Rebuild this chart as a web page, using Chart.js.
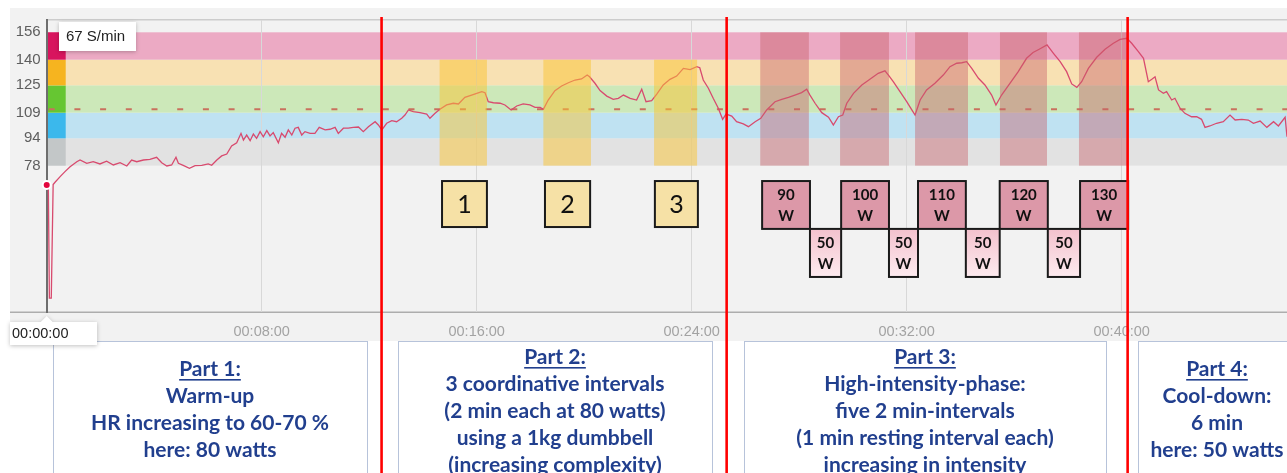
<!DOCTYPE html>
<html><head><meta charset="utf-8">
<script src="https://cdn.jsdelivr.net/npm/chart.js@4.4.1/dist/chart.umd.min.js"></script>
<style>
html,body{margin:0;padding:0;background:#fff;}
#wrap{position:relative;width:1287px;height:473px;overflow:hidden;}
canvas{display:block;}
</style></head><body>
<div id="wrap"><canvas id="c" width="1287" height="473"></canvas></div>
<script>
// ---- data (minutes, heart rate S/min) ----
const hrMinutes = [0,0.06,0.1,0.17,0.24,0.31,0.5,0.68,0.87,1.12,1.24,1.49,1.73,1.98,2.23,2.48,2.73,2.98,3.16,3.35,3.6,3.84,4.09,4.28,4.47,4.65,4.81,4.9,5.08,5.31,5.52,5.77,6.01,6.14,6.33,6.51,6.7,6.88,7.07,7.23,7.32,7.44,7.57,7.69,7.81,7.94,8.06,8.19,8.31,8.43,8.62,8.74,8.87,8.99,9.12,9.24,9.36,9.49,9.61,9.8,9.98,10.14,10.36,10.54,10.73,10.85,11.04,11.22,11.41,11.6,11.78,11.97,12.22,12.34,12.47,12.65,12.84,13.02,13.21,13.33,13.46,13.64,13.89,14.14,14.26,14.45,14.63,14.88,15.13,15.32,15.56,15.81,16.0,16.19,16.31,16.43,16.62,16.87,17.05,17.28,17.49,17.73,17.98,18.17,18.36,18.48,18.66,18.91,19.16,19.41,19.66,19.9,20.11,20.2,20.4,20.59,20.84,21.08,21.27,21.46,21.71,21.95,22.14,22.3,22.51,22.7,22.94,23.19,23.44,23.69,23.94,24.19,24.3,24.43,24.62,24.8,24.99,25.15,25.28,25.49,25.67,25.92,26.11,26.36,26.57,26.79,27.1,27.35,27.6,27.84,28.09,28.28,28.4,28.59,28.84,29.09,29.27,29.46,29.62,29.77,30.02,30.33,30.63,30.94,31.19,31.32,31.5,31.75,32.0,32.19,32.31,32.5,32.74,33.05,33.36,33.61,33.86,34.05,34.23,34.42,34.67,34.91,35.16,35.32,35.53,35.84,36.15,36.46,36.7,36.93,37.22,37.46,37.71,37.95,38.14,38.33,38.51,38.76,39.07,39.38,39.69,39.94,40.19,40.37,40.62,40.81,40.99,41.12,41.24,41.37,41.55,41.67,41.86,41.98,42.17,42.35,42.6,42.79,42.97,43.1,43.28,43.53,43.78,44.03,44.22,44.47,44.71,44.9,45.15,45.4,45.65,45.83,46.08,46.15];
const hrBpm = [66.7,66,0.5,0.5,67,68.3,71.6,74.5,77.4,80.3,81.3,79.4,80.3,79.0,80.6,78.4,79.7,77.8,81.3,80.3,81.3,81.7,82.9,79.7,77.8,78.4,82.9,79.4,78.2,76.5,78.0,78.2,79.0,78.2,81.3,83.7,84.8,89.5,91.4,96.9,93.0,95.9,92.6,96.5,94.0,97.9,94.9,98.5,95.4,97.3,91.4,96.9,94.6,98.9,95.9,99.9,100.4,95.9,97.9,96.9,96.9,100.4,98.9,99.3,100.4,96.9,99.9,99.9,100.4,100.6,97.9,100.8,103.7,101.8,98.9,102.8,104.3,103.7,105.7,107.6,110.6,109.6,109.0,108.2,105.7,108.6,111.0,113.5,114.5,114.1,118.0,119.3,120.3,121.3,120.7,115.4,114.8,114.5,113.5,110.6,112.9,114.1,113.5,112.1,112.1,111.0,116.4,121.9,124.6,126.5,128.1,128.7,131.0,130.0,126.2,121.9,118.7,116.8,117.4,119.3,117.4,116.4,122.7,115.4,116.0,119.9,125.2,128.5,130.4,134.9,134.2,135.9,135.3,128.1,123.3,117.4,111.6,105.1,108.2,107.0,103.7,102.4,100.8,103.7,105.7,110.6,115.4,116.8,118.0,119.3,120.7,122.7,119.3,114.5,109.0,106.3,101.8,106.6,107.6,114.5,120.3,125.2,128.5,132.0,133.5,131.0,127.1,121.3,115.4,110.6,107.6,116.4,122.3,126.2,131.0,135.9,137.9,138.2,138.8,134.9,129.1,125.2,119.3,113.5,119.3,126.2,133.0,140.8,144.2,146.1,148.6,143.7,138.8,133.0,125.8,123.8,127.1,134.9,141.4,146.1,149.6,151.9,152.5,149.6,144.7,140.8,127.1,128.5,130.0,122.3,120.3,121.3,116.4,117.4,111.6,108.6,106.6,106.6,105.1,100.4,101.2,102.8,103.7,107.6,104.7,105.1,104.7,102.8,104.1,100.4,103.7,101.2,106.3,94.9];

const zoneTicks = [78, 94, 109, 125, 140, 156];
const zoneBand = ['#e2e2e2', '#bfe2f2', '#cce8b9', '#f8e1b3', '#ecaac4'];
const zoneMarker = ['#c3c7c8', '#3bb8ec', '#66c632', '#f6b41f', '#d8155e'];
const targetHr = 111;

const phaseBreaks = [12.46, 25.30, 40.22];

const coordStart = [14.62, 18.48, 22.60];
const coordEnd = [16.38, 20.25, 24.20];
const coordBoxStart = [14.71, 18.54, 22.63];
const coordBoxEnd = [16.38, 20.22, 24.23];
const coordLabels = ['1', '2', '3'];

const hiStart = [26.55, 29.52, 32.31, 35.47, 38.41];
const hiEnd = [28.36, 31.34, 34.28, 37.22, 40.20];
const hiBoxStart = [26.62, 29.56, 32.42, 35.46, 38.45];
const hiBoxEnd = [28.40, 31.34, 34.20, 37.25, 40.24];
const hiWatts = ['90', '100', '110', '120', '130'];
const restWatts = ['50', '50', '50', '50'];

const xTickStep = 8;
const cursorLabel = '00:00:00';
const cursorValue = '67 S/min';

const partTitles = ['Part 1:', 'Part 2:', 'Part 3:', 'Part 4:'];
const partLines = [
  ['Warm-up', 'HR increasing to 60-70 %', 'here: 80 watts'],
  ['3 coordinative intervals', '(2 min each at 80 watts)', 'using a 1kg dumbbell', '(increasing complexity)'],
  ['High-intensity-phase:', 'five 2 min-intervals', '(1 min resting interval each)', 'increasing in intensity'],
  ['Cool-down:', '6 min', 'here: 50 watts']
];

// ---- layout constants ----
const partBoxLeft = [53, 398, 744, 1138];
const partBoxRight = [367, 712, 1106, 1296];
const partFirstLine = [369, 357, 357, 369];

const fmt = v => '00:' + String(Math.round(v)).padStart(2, '0') + ':00';

const deco = {
  id: 'deco',
  beforeDraw(chart) {
    const ctx = chart.ctx, ys = chart.scales.y, a = chart.chartArea;
    ctx.save();
    ctx.fillStyle = '#ffffff';
    ctx.fillRect(0, 0, chart.width, chart.height);
    ctx.fillStyle = '#f2f2f2';
    ctx.fillRect(10, 8, chart.width - 10, 333);
    for (let i = 0; i < 5; i++) {
      const yt = ys.getPixelForValue(zoneTicks[i + 1]);
      const yb = ys.getPixelForValue(zoneTicks[i]);
      ctx.fillStyle = zoneBand[i];
      ctx.fillRect(a.left, yt, a.right - a.left, yb - yt);
      ctx.fillStyle = zoneMarker[i];
      ctx.fillRect(a.left, yt, 19, yb - yt);
    }
    ctx.fillStyle = '#cccccc';
    ctx.fillRect(a.left, a.top - 1, a.right - a.left, 1.5);
    ctx.fillStyle = '#adadad';
    ctx.fillRect(10, a.bottom - 0.5, chart.width - 10, 1.5);
    ctx.restore();
  },
  beforeDatasetsDraw(chart) {
    const ctx = chart.ctx, ys = chart.scales.y, a = chart.chartArea;
    ctx.save();
    const y = ys.getPixelForValue(targetHr);
    ctx.strokeStyle = '#c9705e';
    ctx.lineWidth = 2;
    ctx.setLineDash([6, 19.7]);
    ctx.beginPath();
    ctx.moveTo(a.left + 2, y);
    ctx.lineTo(a.right, y);
    ctx.stroke();
    ctx.restore();
  },
  afterDatasetsDraw(chart) {
    const ctx = chart.ctx, xs = chart.scales.x, ys = chart.scales.y;
    ctx.save();
    ctx.fillStyle = 'rgba(250,196,50,0.5)';
    for (let i = 0; i < coordStart.length; i++) {
      const x0 = xs.getPixelForValue(coordStart[i]), x1 = xs.getPixelForValue(coordEnd[i]);
      const y0 = ys.getPixelForValue(140), y1 = ys.getPixelForValue(78);
      ctx.fillRect(x0, y0, x1 - x0, y1 - y0);
    }
    ctx.fillStyle = 'rgba(200,96,105,0.43)';
    for (let i = 0; i < hiStart.length; i++) {
      const x0 = xs.getPixelForValue(hiStart[i]), x1 = xs.getPixelForValue(hiEnd[i]);
      const y0 = ys.getPixelForValue(156), y1 = ys.getPixelForValue(78);
      ctx.fillRect(x0, y0, x1 - x0, y1 - y0);
    }
    const bt = ys.getPixelForValue(69.0), bb = ys.getPixelForValue(42.1);
    for (let i = 0; i < coordBoxStart.length; i++) {
      const x0 = xs.getPixelForValue(coordBoxStart[i]), x1 = xs.getPixelForValue(coordBoxEnd[i]);
      ctx.fillStyle = '#f6e1a6';
      ctx.fillRect(x0, bt, x1 - x0, bb - bt);
      ctx.strokeStyle = '#1a1a1a'; ctx.lineWidth = 2;
      ctx.strokeRect(x0, bt, x1 - x0, bb - bt);
      ctx.fillStyle = '#111';
      ctx.font = '25px Lato, "Open Sans", sans-serif';
      ctx.textAlign = 'center'; ctx.textBaseline = 'middle';
      ctx.fillText(coordLabels[i], (x0 + x1) / 2, (bt + bb) / 2 + 1);
    }
    const ht = ys.getPixelForValue(69.0), hm = ys.getPixelForValue(41.0), hb = ys.getPixelForValue(12.9);
    ctx.font = 'bold 15px Lato, "Open Sans", sans-serif';
    ctx.textAlign = 'center'; ctx.textBaseline = 'middle';
    for (let i = 0; i < hiBoxStart.length; i++) {
      const x0 = xs.getPixelForValue(hiBoxStart[i]), x1 = xs.getPixelForValue(hiBoxEnd[i]);
      ctx.fillStyle = '#dc98a8';
      ctx.fillRect(x0, ht, x1 - x0, hm - ht);
      ctx.strokeStyle = '#1a1a1a'; ctx.lineWidth = 2;
      ctx.strokeRect(x0, ht, x1 - x0, hm - ht);
      ctx.fillStyle = '#111';
      ctx.fillText(hiWatts[i], (x0 + x1) / 2, ht + 14);
      ctx.fillText('W', (x0 + x1) / 2, ht + 35);
    }
    for (let i = 0; i < restWatts.length; i++) {
      const x0 = xs.getPixelForValue(hiBoxEnd[i]), x1 = xs.getPixelForValue(hiBoxStart[i + 1]);
      const g = ctx.createLinearGradient(0, hm, 0, hb);
      g.addColorStop(0, '#f3c1cd'); g.addColorStop(1, '#fdebef');
      ctx.fillStyle = g;
      ctx.fillRect(x0, hm, x1 - x0, hb - hm);
      ctx.strokeStyle = '#1a1a1a'; ctx.lineWidth = 2;
      ctx.strokeRect(x0, hm, x1 - x0, hb - hm);
      ctx.fillStyle = '#111';
      ctx.fillText(restWatts[i], (x0 + x1) / 2, hm + 14);
      ctx.fillText('W', (x0 + x1) / 2, hm + 35);
    }
    ctx.restore();
  },
  afterDraw(chart) {
    const ctx = chart.ctx, xs = chart.scales.x;
    ctx.save();
    for (let i = 0; i < partTitles.length; i++) {
      const l = partBoxLeft[i], r = partBoxRight[i];
      ctx.fillStyle = '#ffffff';
      ctx.fillRect(l, 341, r - l, 140);
      ctx.strokeStyle = '#b7c3da'; ctx.lineWidth = 1;
      ctx.strokeRect(l + 0.5, 341.5, r - l, 140);
      const cx = (l + r) / 2;
      ctx.fillStyle = '#213f8e';
      ctx.font = 'bold 21px Lato, "Open Sans", sans-serif';
      ctx.textAlign = 'center'; ctx.textBaseline = 'middle';
      let y = partFirstLine[i];
      ctx.fillText(partTitles[i], cx, y);
      const w = ctx.measureText(partTitles[i]).width;
      ctx.fillRect(cx - w / 2, y + 10, w, 1.6);
      for (const line of partLines[i]) {
        y += 27;
        ctx.fillText(line, cx, y);
      }
    }
    ctx.strokeStyle = '#ff0000'; ctx.lineWidth = 2.6;
    for (const t of phaseBreaks) {
      const x = xs.getPixelForValue(t);
      ctx.beginPath(); ctx.moveTo(x, 17); ctx.lineTo(x, chart.height); ctx.stroke();
    }
    ctx.shadowColor = 'rgba(0,0,0,0.25)'; ctx.shadowBlur = 4; ctx.shadowOffsetY = 1;
    ctx.fillStyle = '#ffffff';
    ctx.fillRect(59, 22, 77, 29);
    const cx0 = xs.getPixelForValue(0);
    ctx.beginPath();
    ctx.moveTo(10, 322); ctx.lineTo(cx0 - 6, 322); ctx.lineTo(cx0, 316); ctx.lineTo(cx0 + 6, 322);
    ctx.lineTo(97, 322); ctx.lineTo(97, 345); ctx.lineTo(10, 345); ctx.closePath();
    ctx.fill();
    ctx.shadowColor = 'transparent';
    ctx.fillStyle = '#222';
    ctx.font = '15px "Liberation Sans", Arial, sans-serif';
    ctx.textAlign = 'left'; ctx.textBaseline = 'middle';
    ctx.fillText(cursorValue, 66, 37);
    ctx.font = '14.5px "Liberation Sans", Arial, sans-serif';
    ctx.fillText(cursorLabel, 12, 334);
    ctx.restore();
  }
};

new Chart(document.getElementById('c'), {
  type: 'line',
  data: {
    datasets: [{
      data: hrMinutes.map((t, i) => ({ x: t, y: hrBpm[i] })),
      borderColor: '#d84a6e',
      borderWidth: 1.3,
      tension: 0,
      clip: false,
      pointRadius: ctx => ctx.dataIndex === 0 ? 4 : 0,
      pointBackgroundColor: '#e3063d',
      pointBorderColor: '#ffffff',
      pointBorderWidth: 2,
      fill: false
    }]
  },
  options: {
    responsive: false,
    devicePixelRatio: 1,
    animation: false,
    events: [],
    layout: { autoPadding: false, padding: { top: 20, left: 0, right: 0, bottom: 0 } },
    plugins: { legend: { display: false }, tooltip: { enabled: false } },
    scales: {
      x: {
        type: 'linear', min: 0, max: 46.15,
        ticks: {
          stepSize: xTickStep, includeBounds: false, autoSkip: false, maxRotation: 0,
          padding: 11, color: '#a3a3a3',
          font: { family: '"Liberation Sans", Arial, sans-serif', size: 14.5 },
          callback: v => v === 0 ? '' : fmt(v)
        },
        grid: { color: '#d8d8d8', drawTicks: false, lineWidth: 1 },
        border: { display: false },
        afterFit: s => { s.height = 161; s.paddingLeft = 0; s.paddingRight = 0; }
      },
      y: {
        min: -7.6, max: 163.2,
        afterBuildTicks: s => { s.ticks = zoneTicks.map(v => ({ value: v })); },
        ticks: {
          color: '#5e5e5e', padding: 6,
          font: { family: '"Liberation Sans", Arial, sans-serif', size: 15 }
        },
        grid: { display: false, drawTicks: false },
        border: { display: true, color: '#6e6e6e', width: 2 },
        afterFit: s => { s.width = 46.7; s.paddingTop = 0; s.paddingBottom = 0; }
      }
    }
  },
  plugins: [deco]
});
</script>
</body></html>
